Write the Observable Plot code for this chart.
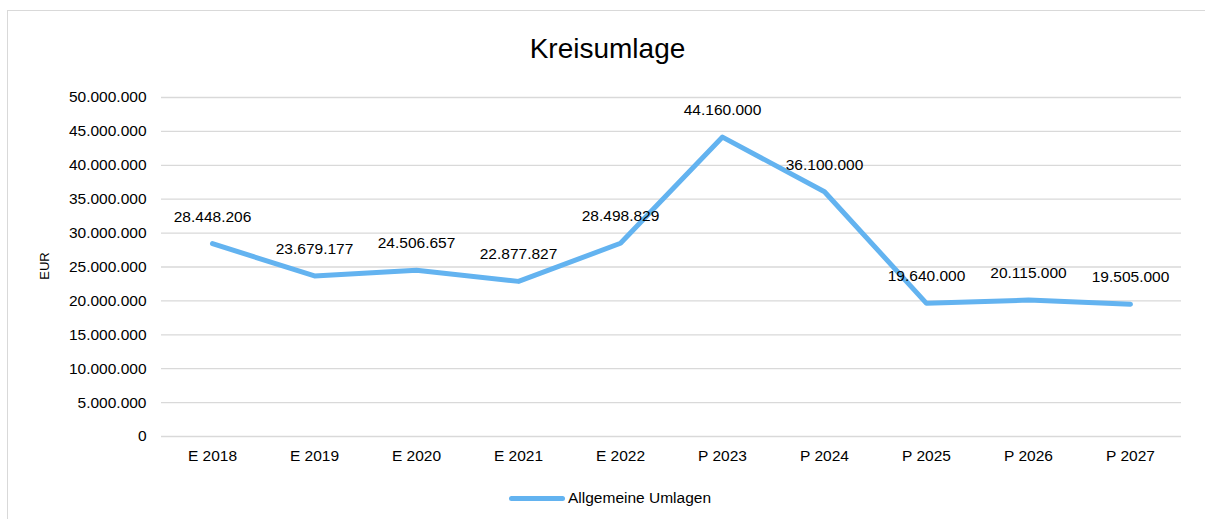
<!DOCTYPE html>
<html>
<head>
<meta charset="utf-8">
<script src="https://cdn.jsdelivr.net/npm/d3@7"></script>
<script src="https://cdn.jsdelivr.net/npm/@observablehq/plot@0.6"></script>
<style>
  html, body { margin: 0; padding: 0; background: #fff; }
  body { width: 1205px; height: 519px; position: relative; overflow: hidden; font-family: "Liberation Sans", Arial, sans-serif; }
  #frame { position: absolute; left: 7px; top: 10px; width: 1230px; height: 540px; border: 1px solid #d9d9d9; box-sizing: border-box; }
  #title { position: absolute; left: 0; width: 1215px; top: 33px; text-align: center; font-size: 28px; line-height: normal; color: #000; }
  #chart { position: absolute; left: 0; top: 0; }
  #ylab { position: absolute; left: 44px; top: 266px; transform: translate(-50%, -50%) rotate(-90deg); font-size: 13px; color: #000; white-space: nowrap; }
  #legend { position: absolute; top: 489px; left: 509px; display: flex; align-items: center; font-size: 15.5px; line-height: normal; color: #000; }
  #legend .sw { width: 56px; height: 5px; border-radius: 3px; background: #63b3f0; margin-right: 3px; }
</style>
</head>
<body>
<div id="frame"></div>
<div id="title">Kreisumlage</div>
<div id="chart"></div>
<div id="ylab">EUR</div>
<div id="legend"><div class="sw"></div><span id="legtext"></span></div>
<script>
const categories = ["E 2018", "E 2019", "E 2020", "E 2021", "E 2022", "P 2023", "P 2024", "P 2025", "P 2026", "P 2027"];
const values = [28448206, 23679177, 24506657, 22877827, 28498829, 44160000, 36100000, 19640000, 20115000, 19505000];
const yTicks = [0, 5000000, 10000000, 15000000, 20000000, 25000000, 30000000, 35000000, 40000000, 45000000, 50000000];
const seriesName = "Allgemeine Umlagen";

document.getElementById("legtext").textContent = seriesName;

const de = d3.formatLocale({decimal: ",", thousands: ".", grouping: [3], currency: ["", " €"]});
const fmt = de.format(",d");
const data = categories.map((c, i) => ({cat: c, value: values[i]}));

const chart = Plot.plot({
  width: 1205,
  height: 519,
  marginLeft: 161,
  marginRight: 24,
  marginTop: 97,
  marginBottom: 83,
  style: {fontFamily: "Liberation Sans, Arial, sans-serif", fontSize: "15.5px", color: "#000", background: "transparent"},
  x: {type: "point", domain: categories, padding: 0.5, label: null, tickSize: 0, tickPadding: 13},
  y: {domain: [0, 50000000], ticks: yTicks, tickFormat: fmt, label: null, tickSize: 0, tickPadding: 15},
  marks: [
    Plot.gridY(yTicks, {stroke: "#d9d9d9", strokeOpacity: 1, strokeWidth: 1.3}),
    Plot.lineY(data, {x: "cat", y: "value", stroke: "#63b3f0", strokeWidth: 5, strokeLinejoin: "round", strokeLinecap: "round"}),
    Plot.text(data, {x: "cat", y: "value", text: d => fmt(d.value), dy: -27, fontSize: 15.5, fill: "#000"})
  ]
});
document.getElementById("chart").appendChild(chart);
</script>
</body>
</html>
